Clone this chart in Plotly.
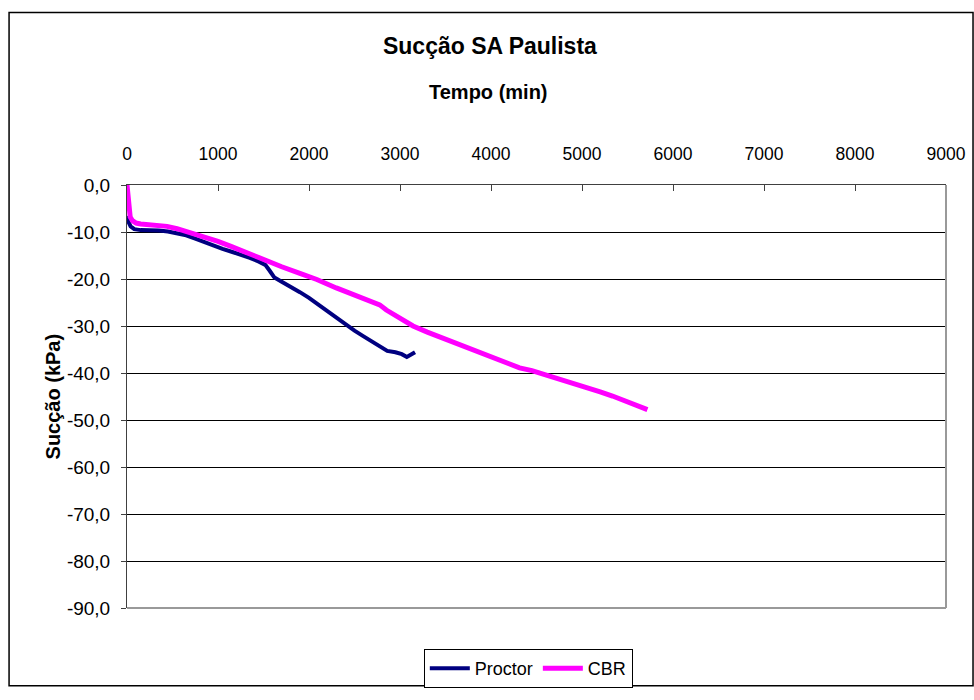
import plotly.graph_objects as go

# Proctor curve (min, kPa)
proctor_t = [0, 15, 40, 80, 150, 250, 350, 450, 550, 650, 750, 850, 950, 1050,
             1150, 1250, 1350, 1450, 1520, 1570, 1620, 1700, 1800, 1900, 2000,
             2100, 2200, 2300, 2400, 2500, 2600, 2700, 2800, 2860, 2950, 3020,
             3075, 3120, 3165]
proctor_s = [-6.6, -7.8, -8.8, -9.4, -9.6, -9.6, -9.7, -9.9, -10.2, -10.7,
             -11.4, -12.2, -12.9, -13.6, -14.2, -14.8, -15.5, -16.3, -17.0,
             -18.3, -19.7, -20.6, -21.6, -22.8, -24.0, -25.4, -26.9, -28.3,
             -29.6, -31.0, -32.2, -33.3, -34.6, -35.3, -35.6, -36.0, -36.6,
             -36.2, -35.6]

# CBR curve (min, kPa)
cbr_t = [0, 10, 20, 35, 60, 100, 150, 250, 350, 440, 550, 660, 800, 1000, 1150,
         1270, 1400, 1537, 1700, 1900, 2086, 2300, 2500, 2700, 2777, 2850, 2950,
         3050, 3143, 3300, 3450, 3546, 3692, 3850, 4000, 4150, 4314, 4450, 4533,
         4700, 4850, 4973, 5100, 5200, 5335, 5450, 5550, 5650, 5719]
cbr_s = [0.0, -3.0, -5.5, -6.8, -7.6, -8.1, -8.3, -8.5, -8.6, -8.8, -9.3, -9.9,
         -10.8, -12.0, -13.1, -14.1, -15.0, -16.1, -17.4, -18.8, -20.1, -21.9,
         -23.4, -24.9, -25.5, -26.6, -27.8, -29.0, -30.0, -31.3, -32.4, -33.1,
         -34.2, -35.4, -36.6, -37.7, -38.9, -39.5, -40.0, -40.9, -41.7, -42.4,
         -43.3, -44.0, -44.9, -45.8, -46.6, -47.3, -47.8]

y_ticks = [0, -10, -20, -30, -40, -50, -60, -70, -80, -90]
y_labels = [f"{v:.1f}".replace(".", ",") for v in y_ticks]

fnt = "Liberation Sans, Arial, sans-serif"

fig = go.Figure()
fig.add_trace(go.Scatter(x=proctor_t, y=proctor_s, mode="lines", name="Proctor",
                         line=dict(color="#000080", width=4)))
fig.add_trace(go.Scatter(x=cbr_t, y=cbr_s, mode="lines", name="CBR",
                         line=dict(color="#FF00FF", width=5)))

fig.update_layout(
    width=974, height=700,
    margin=dict(l=127, r=28, t=185, b=81),
    paper_bgcolor="white", plot_bgcolor="white",
    font=dict(family=fnt, size=17.5, color="black"),
    title=dict(text="<b>Sucção SA Paulista</b>", x=0.503, xanchor="center",
               y=0.934, yanchor="middle", font=dict(size=23)),
    legend=dict(orientation="h", x=0.49, xanchor="center", y=-0.097,
                yanchor="top", bordercolor="black", borderwidth=1,
                font=dict(size=18), itemwidth=40),
    showlegend=True,
)

fig.update_xaxes(
    side="top", range=[0, 9000], dtick=1000, tick0=0,
    ticks="inside", ticklen=6, tickcolor="#404040",
    showline=True, linecolor="#404040", linewidth=1,
    showgrid=False, zeroline=False, automargin=False,
    ticklabelstandoff=17,
)
fig.update_yaxes(
    range=[-90, 0], tickvals=y_ticks, ticktext=y_labels,
    ticks="outside", ticklen=5, tickcolor="#404040",
    showline=True, linecolor="#404040", linewidth=1,
    showgrid=True, gridcolor="black", gridwidth=1, zeroline=False,
    automargin=False, ticklabelstandoff=7, tickfont=dict(size=19),
)

# axis titles
fig.add_annotation(text="<b>Tempo (min)</b>", xref="paper", yref="paper",
                   x=0.441, y=1.219, xanchor="center", yanchor="middle",
                   showarrow=False, font=dict(size=20))
fig.add_annotation(text="<b>Sucção (kPa)</b>", xref="paper", yref="paper",
                   x=-0.0904, y=0.5, xanchor="center", yanchor="middle",
                   textangle=-90, showarrow=False, font=dict(size=20))

# gray plot-area border (right and bottom)
fig.add_shape(type="line", xref="paper", yref="paper", x0=1, x1=1, y0=0, y1=1,
              line=dict(color="#999999", width=2))
fig.add_shape(type="line", xref="paper", yref="paper", x0=0, x1=1, y0=0, y1=0,
              line=dict(color="#999999", width=2))
# outer chart frame
fig.add_shape(type="rect", xref="paper", yref="paper",
              x0=-0.144, x1=1.033, y0=-0.184, y1=1.408,
              line=dict(color="black", width=1.5), layer="below")

# drop the default 8px page margin so the figure fills the window exactly
fig.write_html("out.html", config={"displayModeBar": False},
               post_script="document.body.style.margin='0px';")
